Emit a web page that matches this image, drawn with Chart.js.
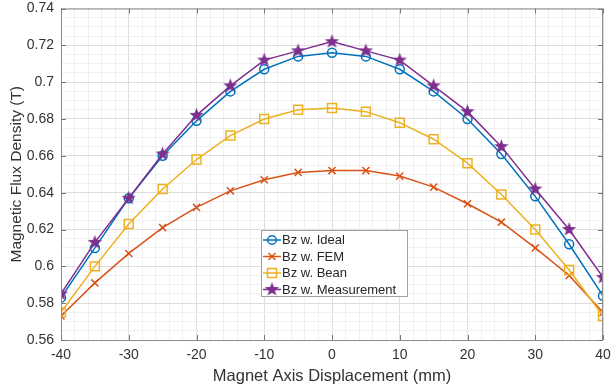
<!DOCTYPE html>
<html>
<head>
<meta charset="utf-8">
<script src="https://cdn.jsdelivr.net/npm/chart.js@4/dist/chart.umd.min.js"></script>
<style>
  body { margin: 0; background: #fff; }
  #wrap { width: 613px; height: 392px; }
</style>
</head>
<body>
<div id="wrap"><canvas id="fluxChart" width="613" height="392"></canvas></div>
<script>
'use strict';

// displacement (mm)
const displacement = [-40, -35, -30, -25, -20, -15, -10, -5, 0, 5, 10, 15, 20, 25, 30, 35, 40];
// flux density (T)
const bzIdeal = [0.583, 0.610, 0.637, 0.660, 0.679, 0.695, 0.707, 0.714, 0.716, 0.714, 0.707, 0.695, 0.680, 0.661, 0.638, 0.612, 0.584];
const bzFem = [0.573, 0.591, 0.607, 0.621, 0.632, 0.641, 0.647, 0.651, 0.652, 0.652, 0.649, 0.643, 0.634, 0.624, 0.610, 0.595, 0.575];
const bzBean = [0.575, 0.600, 0.623, 0.642, 0.658, 0.671, 0.680, 0.685, 0.686, 0.684, 0.678, 0.669, 0.656, 0.639, 0.620, 0.598, 0.573];
const bzMeasurement = [0.585, 0.613, 0.637, 0.661, 0.682, 0.698, 0.712, 0.717, 0.722, 0.717, 0.712, 0.698, 0.684, 0.665, 0.642, 0.620, 0.594];
const seriesNames = ['Bz w. Ideal', 'Bz w. FEM', 'Bz w. Bean', 'Bz w. Measurement'];

const FONT = '"Liberation Sans", Arial, sans-serif';
const BLUE = '#0072BD', ORANGE = '#D95319', YELLOW = '#EDB120', PURPLE = '#7E2F8E';

// filled pentagram marker
function makeStar(color, r) {
  const c = document.createElement('canvas');
  c.width = c.height = r * 2 + 2;
  const g = c.getContext('2d');
  const cx = r + 1, cy = r + 1;
  g.beginPath();
  for (let i = 0; i < 10; i++) {
    const rad = i % 2 === 0 ? r : r * 0.42;
    const a = -Math.PI / 2 + i * Math.PI / 5;
    const px = cx + rad * Math.cos(a), py = cy + rad * Math.sin(a);
    if (i === 0) g.moveTo(px, py); else g.lineTo(px, py);
  }
  g.closePath();
  g.fillStyle = color;
  g.fill();
  return c;
}
const starImg = makeStar(PURPLE, 7.5);

function pts(ys) {
  return displacement.map(function (x, i) { return { x: x, y: ys[i] }; });
}

function isMajorX(v) { return Math.round(v) % 10 === 0; }
function isMajorY(v) { return Math.round(v * 1000) % 20 === 0; }

// axes box, inward ticks and legend drawn on top
const boxAndLegend = {
  id: 'boxAndLegend',
  afterDraw(chart) {
    const ctx = chart.ctx;
    const a = chart.chartArea;
    const xs = chart.scales.x, ys = chart.scales.y;
    ctx.save();
    ctx.strokeStyle = '#8c8c8c';
    ctx.lineWidth = 1;
    ctx.strokeRect(a.left + 0.5, a.top + 0.5, a.right - a.left - 1, a.bottom - a.top);
    ctx.strokeStyle = '#777';
    ctx.beginPath();
    xs.ticks.forEach(function (t) {
      if (!isMajorX(t.value)) return;
      const px = Math.round(xs.getPixelForValue(t.value)) + 0.5;
      ctx.moveTo(px, a.bottom); ctx.lineTo(px, a.bottom - 5);
      ctx.moveTo(px, a.top); ctx.lineTo(px, a.top + 5);
    });
    ys.ticks.forEach(function (t) {
      if (!isMajorY(t.value)) return;
      const py = Math.round(ys.getPixelForValue(t.value)) + 0.5;
      ctx.moveTo(a.left, py); ctx.lineTo(a.left + 5, py);
      ctx.moveTo(a.right, py); ctx.lineTo(a.right - 5, py);
    });
    ctx.stroke();

    // legend
    const lx = 261, ly = 230, lw = 146, lh = 66;
    ctx.fillStyle = '#fff';
    ctx.fillRect(lx, ly, lw, lh);
    ctx.strokeStyle = '#a0a0a0';
    ctx.strokeRect(lx + 0.5, ly + 0.5, lw, lh);
    ctx.font = '13px ' + FONT;
    ctx.textBaseline = 'middle';
    chart.data.datasets.forEach(function (ds, i) {
      const y = ly + 10 + i * 16.5;
      const x0 = lx + 2, x1 = lx + 20, mx = (x0 + x1) / 2;
      ctx.strokeStyle = ds.borderColor;
      ctx.lineWidth = 1.5;
      ctx.beginPath(); ctx.moveTo(x0, y); ctx.lineTo(x1, y); ctx.stroke();
      ctx.beginPath();
      if (ds.pointStyle === 'circle') {
        ctx.arc(mx, y, 4.3, 0, Math.PI * 2); ctx.stroke();
      } else if (ds.pointStyle === 'crossRot') {
        ctx.moveTo(mx - 3.5, y - 3.5); ctx.lineTo(mx + 3.5, y + 3.5);
        ctx.moveTo(mx - 3.5, y + 3.5); ctx.lineTo(mx + 3.5, y - 3.5); ctx.stroke();
      } else if (ds.pointStyle === 'rect') {
        ctx.strokeRect(mx - 4.5, y - 4.5, 9, 9);
      } else {
        ctx.drawImage(starImg, mx - starImg.width / 2, y - starImg.height / 2);
      }
      ctx.fillStyle = '#262626';
      ctx.fillText(ds.label, x1 + 1, y + 0.5);
    });
    ctx.restore();
  }
};

const context = document.querySelector('#fluxChart').getContext('2d');
new Chart(context, {
  type: 'line',
  data: {
    datasets: [
      { label: seriesNames[0], data: pts(bzIdeal), borderColor: BLUE, pointStyle: 'circle', pointRadius: 4.5, order: 4 },
      { label: seriesNames[1], data: pts(bzFem), borderColor: ORANGE, pointStyle: 'crossRot', pointRadius: 5, order: 3 },
      { label: seriesNames[2], data: pts(bzBean), borderColor: YELLOW, pointStyle: 'rect', pointRadius: 6.3, order: 2 },
      { label: seriesNames[3], data: pts(bzMeasurement), borderColor: PURPLE, pointStyle: starImg, pointRadius: 7, order: 1 }
    ].map(function (d) {
      d.borderWidth = 1.5;
      d.pointBorderColor = d.borderColor;
      d.pointBackgroundColor = 'rgba(0,0,0,0)';
      d.pointBorderWidth = 1.5;
      d.tension = 0;
      d.fill = false;
      return d;
    })
  },
  options: {
    responsive: false,
    animation: false,
    layout: { padding: { left: 0, right: 10, top: 7, bottom: 0 } },
    plugins: {
      legend: { display: false },
      tooltip: { enabled: false }
    },
    scales: {
      x: {
        type: 'linear',
        min: -40,
        max: 40,
        afterFit: function (s) { s.height = 52; s.paddingLeft = 0; s.paddingRight = 0; },
        grid: {
          drawTicks: false,
          color: function (c) { return isMajorX(c.tick.value) ? '#dedede' : '#f0f0f0'; }
        },
        border: { display: false },
        ticks: {
          stepSize: 2,
          autoSkip: false,
          maxRotation: 0,
          padding: 7,
          color: '#333',
          font: { family: FONT, size: 14 },
          callback: function (v) { return isMajorX(v) ? String(Math.round(v)) : ''; }
        },
        title: {
          display: true,
          text: 'Magnet Axis Displacement (mm)',
          color: '#333',
          font: { family: FONT, size: 16.5 },
          padding: { top: 0, bottom: 6 }
        }
      },
      y: {
        min: 0.56,
        max: 0.74,
        afterFit: function (s) { s.width = 61; s.paddingTop = 0; s.paddingBottom = 0; },
        grid: {
          drawTicks: false,
          color: function (c) { return isMajorY(c.tick.value) ? '#dedede' : '#f0f0f0'; }
        },
        border: { display: false },
        ticks: {
          stepSize: 0.005,
          autoSkip: false,
          padding: 7,
          color: '#333',
          font: { family: FONT, size: 14 },
          callback: function (v) { return isMajorY(v) ? String(parseFloat(v.toFixed(2))) : ''; }
        },
        title: {
          display: true,
          text: 'Magnetic Flux Density (T)',
          color: '#333',
          font: { family: FONT, size: 15.5 },
          padding: { top: 7, bottom: 0 }
        }
      }
    }
  },
  plugins: [boxAndLegend]
});
</script>
</body>
</html>
